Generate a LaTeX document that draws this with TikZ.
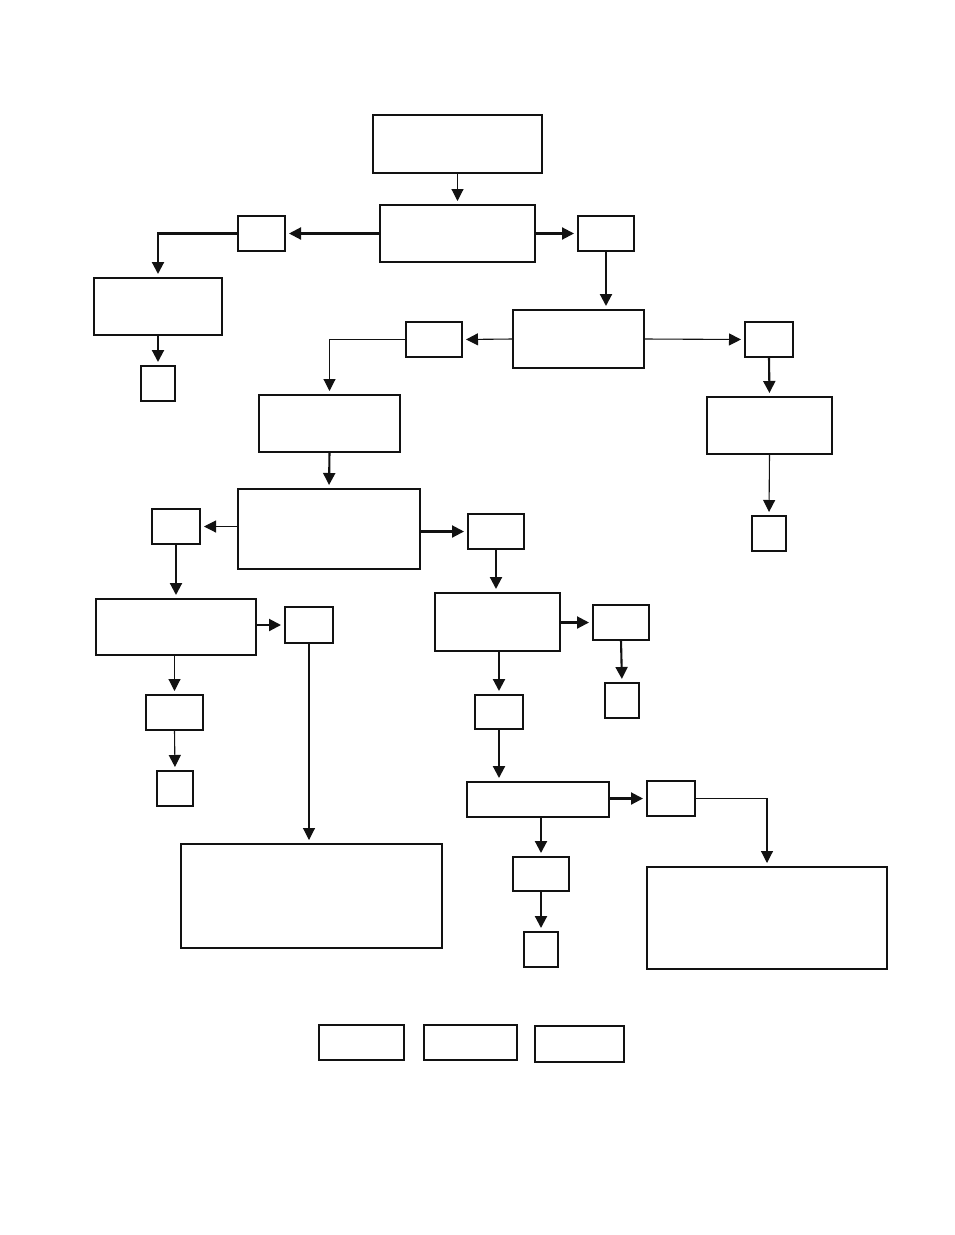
\documentclass[tikz,border=0pt]{standalone}
\usetikzlibrary{arrows.meta}
\begin{document}
\begin{tikzpicture}[x=1pt,y=-1pt,
  box/.style={draw=black!93, line width=1.8pt, fill=white, inner sep=0pt, outer sep=0pt},
  thinarr/.style={draw=black!93, line width=1.1pt, -{Triangle[length=12pt,width=12pt]}, shorten >=4pt},
  thickarr/.style={draw=black!93, line width=2.1pt, -{Triangle[length=12pt,width=12pt]}, shorten >=4pt}]
\useasboundingbox (0,0) rectangle (954,1235);
\fill[white] (0,0) rectangle (954,1235);
% boxes
\node[box, minimum width=169pt, minimum height=58pt] (A) at (457.5,144) {};
\node[box, minimum width=155pt, minimum height=57pt] (B) at (457.5,233.5) {};
\node[box, minimum width=47pt, minimum height=35pt] (C) at (261.5,233.5) {};
\node[box, minimum width=56pt, minimum height=35pt] (D) at (606,233.5) {};
\node[box, minimum width=128pt, minimum height=57pt] (E) at (158,306.5) {};
\node[box, minimum width=34pt, minimum height=35pt] (F) at (158,383.5) {};
\node[box, minimum width=131pt, minimum height=58pt] (G) at (578.5,339) {};
\node[box, minimum width=56pt, minimum height=35pt] (H) at (434,339.5) {};
\node[box, minimum width=48pt, minimum height=35pt] (I) at (769,339.5) {};
\node[box, minimum width=141pt, minimum height=57pt] (J) at (329.5,423.5) {};
\node[box, minimum width=125pt, minimum height=57pt] (K) at (769.5,425.5) {};
\node[box, minimum width=34pt, minimum height=35pt] (L) at (769,533.5) {};
\node[box, minimum width=182pt, minimum height=80pt] (M) at (329,529) {};
\node[box, minimum width=48pt, minimum height=35pt] (N) at (176,526.5) {};
\node[box, minimum width=56pt, minimum height=35pt] (O) at (496,531.5) {};
\node[box, minimum width=160pt, minimum height=56pt] (P) at (176,627) {};
\node[box, minimum width=48pt, minimum height=36pt] (Q) at (309,625) {};
\node[box, minimum width=125pt, minimum height=58pt] (R) at (497.5,622) {};
\node[box, minimum width=56pt, minimum height=35pt] (S) at (621,622.5) {};
\node[box, minimum width=34pt, minimum height=35pt] (T) at (622,700.5) {};
\node[box, minimum width=57pt, minimum height=35pt] (U) at (174.5,712.5) {};
\node[box, minimum width=36pt, minimum height=35pt] (V) at (175,788.5) {};
\node[box, minimum width=48pt, minimum height=34pt] (W) at (499,712) {};
\node[box, minimum width=261pt, minimum height=104pt] (X) at (311.5,896) {};
\node[box, minimum width=142pt, minimum height=35pt] (Y) at (538,799.5) {};
\node[box, minimum width=48pt, minimum height=35pt] (Z) at (671,798.5) {};
\node[box, minimum width=56pt, minimum height=34pt] (AA) at (541,874) {};
\node[box, minimum width=34pt, minimum height=35pt] (AB) at (541,949.5) {};
\node[box, minimum width=240pt, minimum height=102pt] (AC) at (767,918) {};
\node[box, minimum width=85pt, minimum height=35pt] (L1) at (361.5,1042.5) {};
\node[box, minimum width=93pt, minimum height=35pt] (L2) at (470.5,1042.5) {};
\node[box, minimum width=89pt, minimum height=36pt] (L3) at (579.5,1044) {};
% connectors
\draw[thinarr] (A.south) -- (B.north);
\draw[thickarr] (B.west) -- (C.east);
\draw[thickarr] (C.west) -| (E.north);
\draw[thickarr] (B.east) -- (D.west);
\draw[thickarr] (D.south) -- (D.south |- G.north);
\draw[thickarr] (E.south) -- (F.north);
\draw[thinarr] (G.west) -- (H.east);
\draw[thinarr] (H.west) -| (J.north);
\draw[thinarr] (G.east) -- (I.west);
\draw[thickarr] (I.south) -- (K.north);
\draw[thinarr] (K.south) -- (L.north);
\draw[thickarr] (J.south) -- (M.north);
\draw[thinarr] (M.west |- N.east) -- (N.east);
\draw[thickarr] (M.east |- O.west) -- (O.west);
\draw[thickarr] (N.south) -- (P.north);
\draw[thickarr] (O.south) -- (O.south |- R.north);
\draw[thickarr] (P.east |- Q.west) -- (Q.west);
\draw[thinarr] (P.south -| U.north) -- (U.north);
\draw[thinarr] (U.south) -- (V.north);
\draw[thinarr] (Q.south) -- (Q.south |- X.north);
\draw[thickarr] (R.east |- S.west) -- (S.west);
\draw[thickarr] (S.south) -- (T.north);
\draw[thickarr] (R.south -| W.north) -- (W.north);
\draw[thickarr] (W.south) -- (W.south |- Y.north);
\draw[thickarr] (Y.east |- Z.west) -- (Z.west);
\draw[thickarr] (Y.south -| AA.north) -- (AA.north);
\draw[thickarr] (AA.south) -- (AB.north);
\draw[thinarr] (Z.east) -| (AC.north);
\end{tikzpicture}
\end{document}
